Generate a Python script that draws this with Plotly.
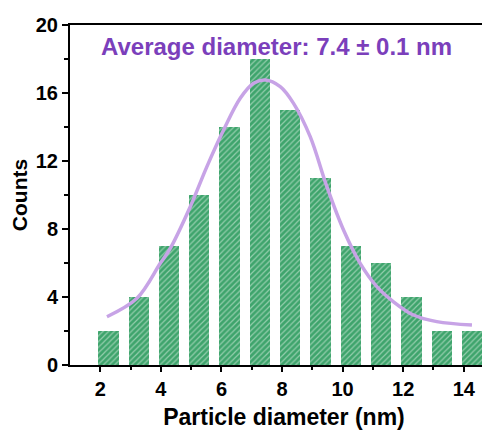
import plotly.graph_objects as go

# Histogram data
bin_centers = [2.27, 3.27, 4.27, 5.27, 6.27, 7.27, 8.27, 9.27, 10.27, 11.27, 12.27, 13.27, 14.27]
counts = [2, 4, 7, 10, 14, 18, 15, 11, 7, 6, 4, 2, 2]

# Fitted curve
fit_x = [2.22, 3.21, 3.98, 4.31, 4.97, 5.52, 6.07, 6.62, 7.06, 7.45, 7.94, 8.38, 8.93,
         9.48, 10.03, 10.58, 11.13, 11.68, 12.34, 13.11, 14.27]
fit_y = [2.84, 3.92, 5.98, 6.86, 9.31, 11.67, 13.82, 15.69, 16.57, 16.76, 16.37, 15.39, 13.43,
         10.49, 7.94, 5.98, 4.61, 3.72, 2.94, 2.55, 2.35]

x_ticks = [2, 4, 6, 8, 10, 12, 14]
y_ticks = [0, 4, 8, 12, 16, 20]

FONT = "Liberation Sans, Arial, sans-serif"

fig = go.Figure()
fig.add_trace(go.Bar(
    x=bin_centers, y=counts, width=0.67,
    marker=dict(color="#3ea46c", line=dict(width=0),
                pattern=dict(shape="/", fgcolor="#e8f5ec", bgcolor="#3ea46c",
                             size=4, solidity=0.3)),
    showlegend=False,
))
fig.add_trace(go.Scatter(
    x=fit_x, y=fit_y, mode="lines",
    line=dict(color="#c7a3e6", width=3.5, shape="spline"),
    showlegend=False,
))

fig.add_annotation(
    text="Average diameter: 7.4 ± 0.1 nm", xref="paper", yref="paper",
    x=0.4825, y=0.936, showarrow=False, xanchor="center", yanchor="middle",
    font=dict(family=FONT, size=24, color="#7b3fbb", weight="bold"),
)

fig.update_layout(
    width=490, height=430,
    margin=dict(l=62, r=0, t=17, b=73),
    plot_bgcolor="white", paper_bgcolor="white",
    bargap=0,
)
fig.update_xaxes(
    automargin=False,
    range=[1.0, 15.13], tickvals=x_ticks, ticks="outside", ticklen=5, tickwidth=1.5,
    tickcolor="black", showline=True, linecolor="black", linewidth=2, mirror=True,
    showgrid=False, zeroline=False,
    minor=dict(tickvals=[3, 5, 7, 9, 11, 13], ticks="outside", ticklen=3, tickwidth=1.5,
               tickcolor="black"),
    tickfont=dict(family=FONT, size=20, color="black", weight="bold"),
    title=dict(text="Particle diameter (nm)", standoff=10,
               font=dict(family=FONT, size=23, color="black", weight="bold")),
)
fig.update_yaxes(
    automargin=False,
    range=[0, 20], tickvals=y_ticks, ticks="outside", ticklen=6, tickwidth=1.5,
    tickcolor="black", showline=True, linecolor="black", linewidth=2, mirror=False,
    showgrid=False, zeroline=False,
    minor=dict(tickvals=[2, 6, 10, 14, 18], ticks="outside", ticklen=4, tickwidth=1.5,
               tickcolor="black"),
    tickfont=dict(family=FONT, size=20, color="black", weight="bold"),
    title=dict(text="Counts", standoff=4,
               font=dict(family=FONT, size=21, color="black", weight="bold")),
)

fig.write_html("out.html")
